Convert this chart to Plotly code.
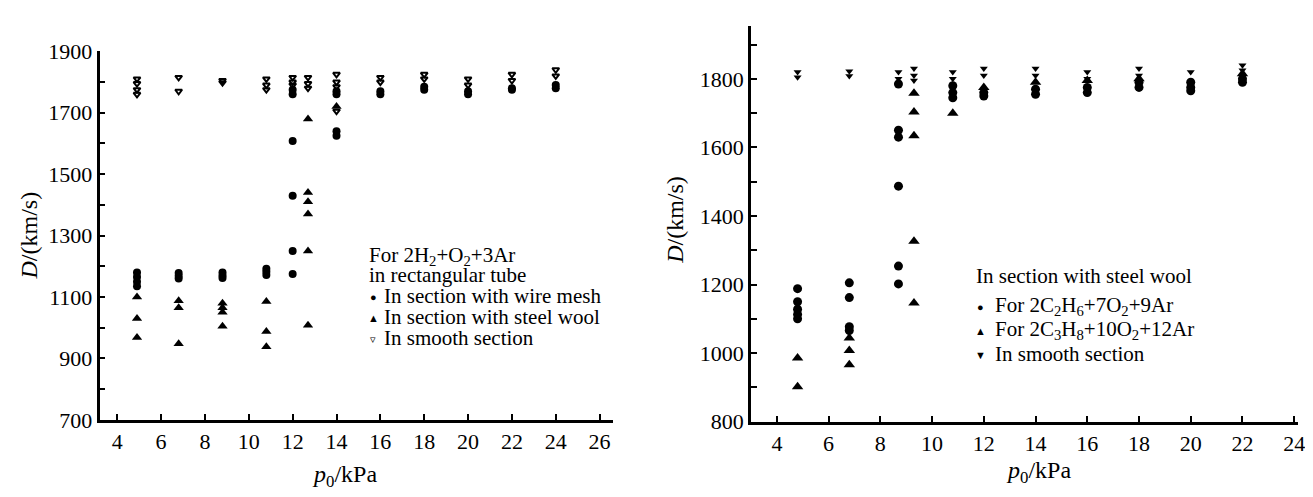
import plotly.graph_objects as go

W, H = 1313, 497
FONT = "Liberation Serif"

# ---------------- Left panel data: 2H2+O2+3Ar ----------------
L_mesh_x = [4.9]*4 + [6.8]*3 + [8.8]*3 + [10.8]*3 + [12.0]*6 + [14.0]*4 + [16]*2 + [18]*2 + [20]*2 + [22]*2 + [24]*2
L_mesh_y = [1180, 1165, 1150, 1135,
            1178, 1168, 1160,
            1180, 1170, 1162,
            1192, 1182, 1172,
            1608, 1430, 1250, 1175, 1775, 1760,
            1770, 1760, 1640, 1625,
            1770, 1760, 1785, 1775, 1770, 1760, 1780, 1775, 1790, 1780]

L_wool_x = [4.9]*3 + [6.8]*3 + [8.8]*4 + [10.8]*3 + [12.7]*6 + [14.0]
L_wool_y = [1100, 1030, 968,
            1088, 1065, 948,
            1080, 1065, 1050, 1005,
            1085, 988, 938,
            1680, 1440, 1410, 1370, 1250, 1008,
            1720]

L_smooth_x = [4.9]*4 + [6.8]*2 + [8.8]*2 + [10.8]*3 + [12.0]*3 + [12.7]*3 + [14.0]*4 + [16]*2 + [18]*2 + [20]*2 + [22]*2 + [24]*2
L_smooth_y = [1810, 1795, 1775, 1760,
              1815, 1770,
              1805, 1798,
              1810, 1790, 1775,
              1815, 1800, 1790,
              1815, 1795, 1780,
              1825, 1800, 1785, 1705,
              1815, 1800, 1825, 1810, 1810, 1790, 1825, 1805, 1840, 1820]

# ---------------- Right panel data ----------------
R_c2h6_x = [4.8]*5 + [6.8]*4 + [8.7]*6 + [10.8]*3 + [12]*2 + [14]*2 + [16]*2 + [18]*2 + [20]*3 + [22]*2
R_c2h6_y = [1188, 1150, 1128, 1113, 1100,
            1205, 1162, 1077, 1066,
            1254, 1202, 1487, 1650, 1630, 1785,
            1780, 1760, 1745,
            1760, 1750, 1770, 1755, 1775, 1760, 1790, 1775,
            1790, 1775, 1765, 1800, 1790]

R_c3h8_x = [4.8]*2 + [6.8]*3 + [9.3]*5 + [10.8, 12, 14, 16, 18, 22]
R_c3h8_y = [986, 902,
            1044, 1008, 966,
            1758, 1703, 1634, 1326, 1146,
            1700, 1775, 1790, 1795, 1800, 1815]

R_smooth_x = [4.8]*2 + [6.8]*2 + [8.7]*2 + [9.3]*3 + [10.8]*2 + [12]*2 + [14]*2 + [16]*2 + [18]*2 + [20] + [22]*2
R_smooth_y = [1820, 1805, 1822, 1808, 1820, 1800, 1830, 1810, 1795,
              1820, 1800, 1830, 1810, 1830, 1810, 1820, 1800, 1830, 1810, 1820, 1840, 1825]

L_xticks = list(range(4, 27, 2))
L_yticks = list(range(700, 1901, 100))
L_ylabels = [str(v) if v % 200 == 100 else "" for v in L_yticks]
R_xticks = list(range(4, 25, 2))
R_yticks = list(range(800, 1901, 100))
R_ylabels = [str(v) if v % 200 == 0 else "" for v in R_yticks]

L_legend_title = ["For 2H<sub>2</sub>+O<sub>2</sub>+3Ar", "in rectangular tube"]
L_legend_items = ["In section with wire mesh", "In section with steel wool", "In smooth section"]
R_legend_title = ["In section with steel wool"]
R_legend_items = ["For 2C<sub>2</sub>H<sub>6</sub>+7O<sub>2</sub>+9Ar",
                  "For 2C<sub>3</sub>H<sub>8</sub>+10O<sub>2</sub>+12Ar",
                  "In smooth section"]

fig = go.Figure()

def mk(sym, size, lw=0):
    return dict(symbol=sym, size=size, color="black", line=dict(color="black", width=lw))

fig.add_trace(go.Scatter(x=L_mesh_x, y=L_mesh_y, mode="markers", marker=mk("circle", 8),
                         name=L_legend_items[0], xaxis="x", yaxis="y"))
fig.add_trace(go.Scatter(x=L_wool_x, y=L_wool_y, mode="markers", marker=mk("triangle-up", 9),
                         name=L_legend_items[1], xaxis="x", yaxis="y"))
fig.add_trace(go.Scatter(x=L_smooth_x, y=L_smooth_y, mode="markers",
                         marker=dict(symbol="triangle-down-open", size=6, color="black", line=dict(width=2)),
                         name=L_legend_items[2], xaxis="x", yaxis="y"))

fig.add_trace(go.Scatter(x=R_c2h6_x, y=R_c2h6_y, mode="markers", marker=mk("circle", 9),
                         name=R_legend_items[0], xaxis="x2", yaxis="y2"))
fig.add_trace(go.Scatter(x=R_c3h8_x, y=R_c3h8_y, mode="markers", marker=mk("triangle-up", 10),
                         name=R_legend_items[1], xaxis="x2", yaxis="y2"))
fig.add_trace(go.Scatter(x=R_smooth_x, y=R_smooth_y, mode="markers", marker=mk("triangle-down", 7),
                         name=R_legend_items[2], xaxis="x2", yaxis="y2"))

def px_x(p):
    return p / W

def px_y(p):
    return 1 - p / H

axis_common = dict(showline=True, linecolor="black", linewidth=2.5, ticks="inside", ticklen=6,
                   tickwidth=2, tickcolor="black", showgrid=False, zeroline=False,
                   tickfont=dict(family=FONT, size=22, color="black"))

fig.update_layout(
    width=W, height=H,
    margin=dict(l=0, r=0, t=0, b=0),
    paper_bgcolor="white", plot_bgcolor="white",
    font=dict(family=FONT, color="black"),
    showlegend=False,
    xaxis=dict(domain=[px_x(92), px_x(608)], range=[3.19, 26.6], tickvals=L_xticks,
               anchor="y", **axis_common),
    yaxis=dict(domain=[px_y(421), px_y(33)], range=[700, 1900], tickvals=L_yticks,
               ticktext=L_ylabels, anchor="x", **axis_common),
    xaxis2=dict(domain=[px_x(747), px_x(1297)], range=[3.0, 24.15], tickvals=R_xticks,
                anchor="y2", **axis_common),
    yaxis2=dict(domain=[px_y(423), px_y(6)], range=[800, 1955], tickvals=R_yticks,
                ticktext=R_ylabels, anchor="x2", **axis_common),
)

def text_ann(text, x, y, size=21, anchor="left", yanchor="middle", angle=0):
    fig.add_annotation(xref="paper", yref="paper", showarrow=False, xanchor=anchor, yanchor=yanchor,
                       x=px_x(x), y=px_y(y), text=text, textangle=angle,
                       font=dict(family=FONT, size=size, color="black"))

# axis titles
text_ann("<i>D</i>/(km/s)", 21, 227, size=24, anchor="center", angle=-90)
text_ann("<i>D</i>/(km/s)", 671, 210, size=24, anchor="center", angle=-90)
text_ann("<i>p</i><sub>0</sub>/kPa", 338, 480, size=24, anchor="center")
text_ann("<i>p</i><sub>0</sub>/kPa", 1036, 476, size=24, anchor="center")

# left legend (text + symbols)
text_ann(L_legend_title[0], 361, 248)
text_ann(L_legend_title[1], 361, 268)
L_syms = ["●", "▲", "▿"]
for s, t, yy in zip(L_syms, L_legend_items, [291, 313, 335]):
    text_ann(s, 367, yy + 1, size=11, anchor="center")
    text_ann(t, 376, yy)

# right legend
text_ann(R_legend_title[0], 971, 270)
R_syms = ["●", "▲", "▼"]
for s, t, yy in zip(R_syms, R_legend_items, [301, 326, 352]):
    text_ann(s, 978, yy + 1, size=11, anchor="center")
    text_ann(t, 990, yy)

fig.write_html("out.html")
